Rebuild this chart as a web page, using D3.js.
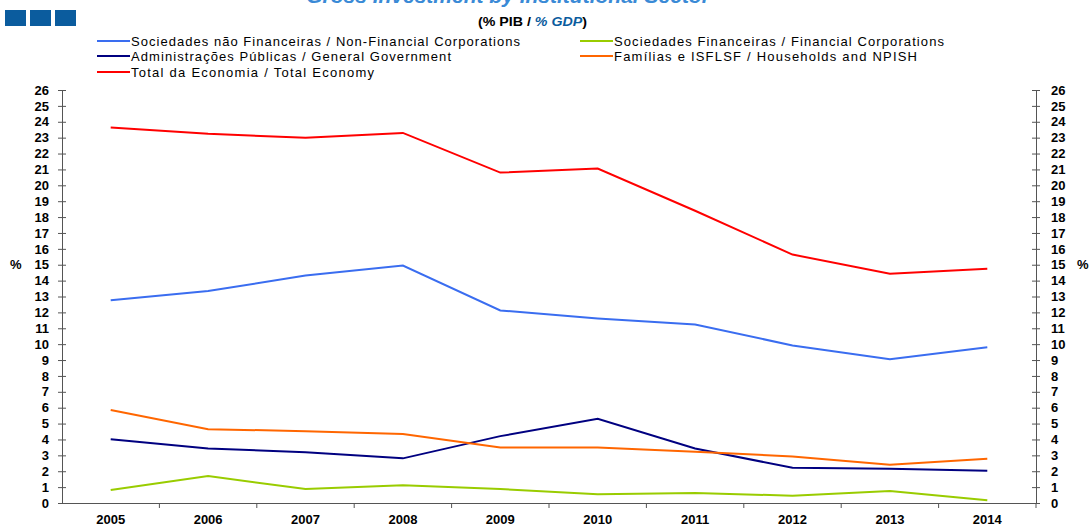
<!DOCTYPE html>
<html>
<head>
<meta charset="utf-8">
<script src="https://cdn.jsdelivr.net/npm/d3@7"></script>
<style>
  body { margin: 0; background: #fff; }
  svg { display: block; font-family: "Liberation Sans", Arial, sans-serif; }
  .axis path, .axis line { stroke: #555; }
  .axis text { font-weight: bold; font-size: 13px; fill: #000; }
</style>
</head>
<body>
<div id="chart"></div>
<script>
var years = ["2005","2006","2007","2008","2009","2010","2011","2012","2013","2014"];
var nonFinancial = [12.77, 13.34, 14.32, 14.95, 12.12, 11.62, 11.24, 9.92, 9.05, 9.8];
var financial    = [0.82, 1.7, 0.88, 1.11, 0.88, 0.55, 0.63, 0.46, 0.75, 0.17];
var government   = [4.02, 3.43, 3.2, 2.81, 4.21, 5.3, 3.43, 2.22, 2.15, 2.03];
var households   = [5.86, 4.65, 4.52, 4.35, 3.5, 3.5, 3.22, 2.93, 2.41, 2.78];
var total        = [23.64, 23.24, 22.99, 23.3, 20.8, 21.06, 18.4, 15.64, 14.43, 14.74];
var yTicks = d3.range(0, 27);

var series = [
  {name: "Sociedades não Financeiras / Non-Financial Corporations", values: nonFinancial, color: "#3a6df0", lx: 97, ly: 41, w: 389},
  {name: "Sociedades Financeiras / Financial Corporations", values: financial, color: "#99cc00", lx: 580, ly: 41, w: 330},
  {name: "Administrações Públicas / General Government", values: government, color: "#000080", lx: 97, ly: 56, w: 320},
  {name: "Famílias e ISFLSF / Households and NPISH", values: households, color: "#ff6600", lx: 580, ly: 56, w: 303},
  {name: "Total da Economia / Total Economy", values: total, color: "#ff0000", lx: 97, ly: 72, w: 243}
];

var width = 1091, height = 526;
var svg = d3.select("#chart").append("svg")
    .attr("width", width)
    .attr("height", height);

var x = d3.scaleBand().domain(years).range([62, 1036]);
var y = d3.scaleLinear().domain([0, 26]).range([503, 90]);

// title, cut off at the top edge as in the original
svg.append("text")
    .attr("x", 508).attr("y", 3)
    .attr("text-anchor", "middle")
    .attr("font-size", 21).attr("font-weight", "bold").attr("font-style", "italic")
    .attr("fill", "#3a8ad6")
    .text("Gross Investment by Institutional Sector");

svg.selectAll(".logo")
  .data([5, 30, 55])
  .enter().append("rect")
    .attr("x", function(d) { return d; })
    .attr("y", 10)
    .attr("width", 21).attr("height", 16)
    .attr("fill", "#0b5c9e");

var sub = svg.append("text")
    .attr("x", 478).attr("y", 26)
    .attr("font-size", 12.5).attr("font-weight", "bold")
    .attr("textLength", 109).attr("lengthAdjust", "spacingAndGlyphs");
sub.append("tspan").text("(% PIB / ");
sub.append("tspan").attr("fill", "#0b5c9e").attr("font-style", "italic").text("% GDP");
sub.append("tspan").text(")");

// legend
var leg = svg.selectAll(".leg")
  .data(series)
  .enter().append("g")
    .attr("transform", function(d) { return "translate(" + d.lx + "," + d.ly + ")"; });
leg.append("line")
    .attr("x1", 0).attr("x2", 33)
    .attr("stroke", function(d) { return d.color; })
    .attr("stroke-width", 2);
leg.append("text")
    .attr("x", 34).attr("dy", "0.35em")
    .attr("font-size", 13)
    .attr("textLength", function(d) { return d.w; })
    .attr("lengthAdjust", "spacing")
    .text(function(d) { return d.name; });

// axes
svg.append("g")
    .attr("class", "axis")
    .attr("transform", "translate(62,0)")
    .call(d3.axisLeft(y).tickValues(yTicks).tickSizeInner(4).tickSizeOuter(0).tickPadding(9))
    .selectAll(".tick line").attr("x1", 4);

svg.append("g")
    .attr("class", "axis")
    .attr("transform", "translate(1036,0)")
    .call(d3.axisRight(y).tickValues(yTicks).tickSizeInner(4).tickSizeOuter(0).tickPadding(11))
    .selectAll(".tick line").attr("x1", -4);

var xAxis = svg.append("g")
    .attr("class", "axis")
    .attr("transform", "translate(0,503)")
    .call(d3.axisBottom(x).tickSize(0).tickPadding(12));
xAxis.selectAll(".bound")
  .data(years)
  .enter().append("line")
    .attr("x1", function(d) { return x(d) + x.bandwidth(); })
    .attr("x2", function(d) { return x(d) + x.bandwidth(); })
    .attr("y1", 0).attr("y2", 5)
    .attr("stroke", "#555");

svg.append("text").attr("x", 10).attr("y", 269)
    .attr("font-size", 13).attr("font-weight", "bold").text("%");
svg.append("text").attr("x", 1077).attr("y", 269)
    .attr("font-size", 13).attr("font-weight", "bold").text("%");

// lines
var line = d3.line()
    .x(function(d, i) { return x(years[i]) + x.bandwidth() / 2; })
    .y(function(d) { return y(d); });

svg.selectAll(".series")
  .data(series)
  .enter().append("path")
    .attr("fill", "none")
    .attr("stroke", function(d) { return d.color; })
    .attr("stroke-width", 2)
    .attr("d", function(d) { return line(d.values); });
</script>
</body>
</html>
